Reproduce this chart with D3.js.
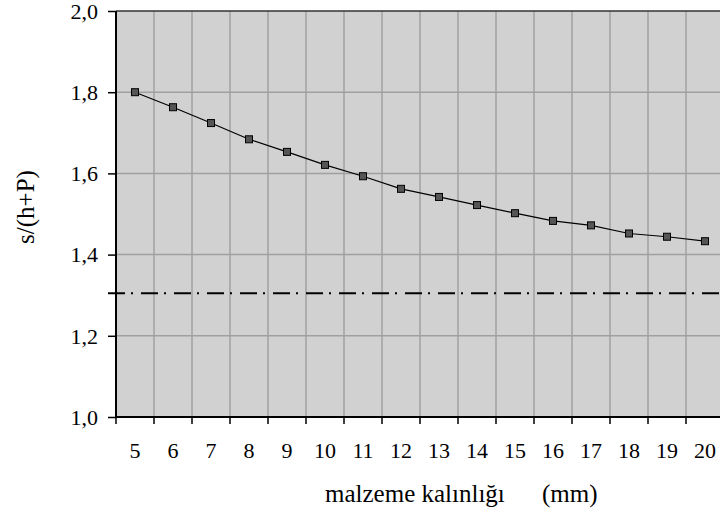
<!DOCTYPE html>
<html>
<head>
<meta charset="utf-8">
<script src="https://cdn.jsdelivr.net/npm/d3@7"></script>
<style>
  body { margin: 0; background: #fff; }
  svg { display: block; }
  svg text { font-family: "Liberation Serif", "Times New Roman", serif !important; }
</style>
</head>
<body>
<svg id="chart" width="720" height="510"></svg>
<script>
const categories = ["5","6","7","8","9","10","11","12","13","14","15","16","17","18","19","20"];
const values = [1.80, 1.763, 1.724, 1.684, 1.653, 1.621, 1.593, 1.562, 1.542, 1.522, 1.502, 1.483, 1.472, 1.452, 1.444, 1.433];
const limitValue = 1.305;
const yTicks = [1.0, 1.2, 1.4, 1.6, 1.8, 2.0];
const yTitle = "s/(h+P)";
const xTitleMain = "malzeme kalınlığı";
const xTitleUnit = "(mm)";

(function () {
const FONT = "Liberation Serif";
const svg = d3.select("#chart");
const pLeft = 116, pTop = 11, pRight = 724, pBottom = 417;

const x = d3.scaleBand().domain(categories).range([pLeft, pRight]).padding(0);
const y = d3.scaleLinear().domain([1.0, 2.0]).range([pBottom, pTop]);

svg.append("rect").attr("x", pLeft).attr("y", pTop)
  .attr("width", pRight - pLeft).attr("height", pBottom - pTop)
  .attr("fill", "#d1d1d1");

svg.append("g").selectAll("line").data(yTicks.slice(1, -1)).join("line")
  .attr("x1", pLeft).attr("x2", pRight)
  .attr("y1", d => y(d)).attr("y2", d => y(d))
  .attr("stroke", "#a0a0a0").attr("stroke-width", 1.5);

svg.append("g").selectAll("line").data(categories.slice(1)).join("line")
  .attr("x1", d => x(d)).attr("x2", d => x(d))
  .attr("y1", pTop).attr("y2", pBottom)
  .attr("stroke", "#a0a0a0").attr("stroke-width", 1.5);

svg.append("line").attr("x1", pLeft).attr("x2", pRight).attr("y1", pTop).attr("y2", pTop)
  .attr("stroke", "#333").attr("stroke-width", 1.5);

svg.append("line")
  .attr("x1", 108).attr("x2", pRight)
  .attr("y1", y(limitValue)).attr("y2", y(limitValue))
  .attr("stroke", "#000").attr("stroke-width", 2)
  .attr("stroke-dasharray", "17,6,2,8");

const yAxis = d3.axisLeft(y).tickValues(yTicks).tickSize(8).tickPadding(10)
  .tickFormat(d => d3.format(".1f")(d).replace(".", ","));
const gy = svg.append("g").attr("transform", `translate(${pLeft},0)`).call(yAxis);
gy.attr("font-family", null).attr("font-size", null);
gy.select(".domain").attr("stroke", "#000").attr("stroke-width", 2).attr("d", `M0,${pTop}V${pBottom}`);
gy.selectAll(".tick line").attr("stroke", "#000").attr("stroke-width", 1.5);
gy.selectAll(".tick text").attr("fill", "#000").attr("dy", "0.33em")
  .style("font-family", FONT).style("font-size", "22px");

const boundaries = categories.map(c => x(c)).concat([pRight]);
svg.append("line").attr("x1", pLeft).attr("x2", pRight).attr("y1", pBottom).attr("y2", pBottom)
  .attr("stroke", "#000").attr("stroke-width", 2);
svg.append("g").selectAll("line").data(boundaries).join("line")
  .attr("x1", d => d).attr("x2", d => d).attr("y1", pBottom).attr("y2", pBottom + 7)
  .attr("stroke", "#000").attr("stroke-width", 1.5);
svg.append("g").selectAll("text").data(categories).join("text")
  .attr("x", d => x(d) + x.bandwidth() / 2).attr("y", 458)
  .attr("text-anchor", "middle")
  .style("font-family", FONT).style("font-size", "22px")
  .text(d => d);

const line = d3.line().x((d, i) => x(categories[i]) + x.bandwidth() / 2).y(d => y(d));
svg.append("path").datum(values).attr("d", line)
  .attr("fill", "none").attr("stroke", "#000").attr("stroke-width", 1.2);

svg.append("g").selectAll("rect").data(values).join("rect")
  .attr("x", (d, i) => x(categories[i]) + x.bandwidth() / 2 - 3.5)
  .attr("y", d => y(d) - 3.5)
  .attr("width", 7).attr("height", 7)
  .attr("fill", "#555").attr("stroke", "#000").attr("stroke-width", 1);

const gt = svg.append("g");
gt.append("text").attr("x", 325).attr("y", 502)
  .style("font-family", FONT).style("font-size", "25px").text(xTitleMain);
gt.append("text").attr("x", 542).attr("y", 502)
  .style("font-family", FONT).style("font-size", "25px").text(xTitleUnit);
gt.append("text").attr("transform", "translate(34,207) rotate(-90)")
  .attr("text-anchor", "middle")
  .style("font-family", FONT).style("font-size", "25px").text(yTitle);
})();
</script>
</body>
</html>
